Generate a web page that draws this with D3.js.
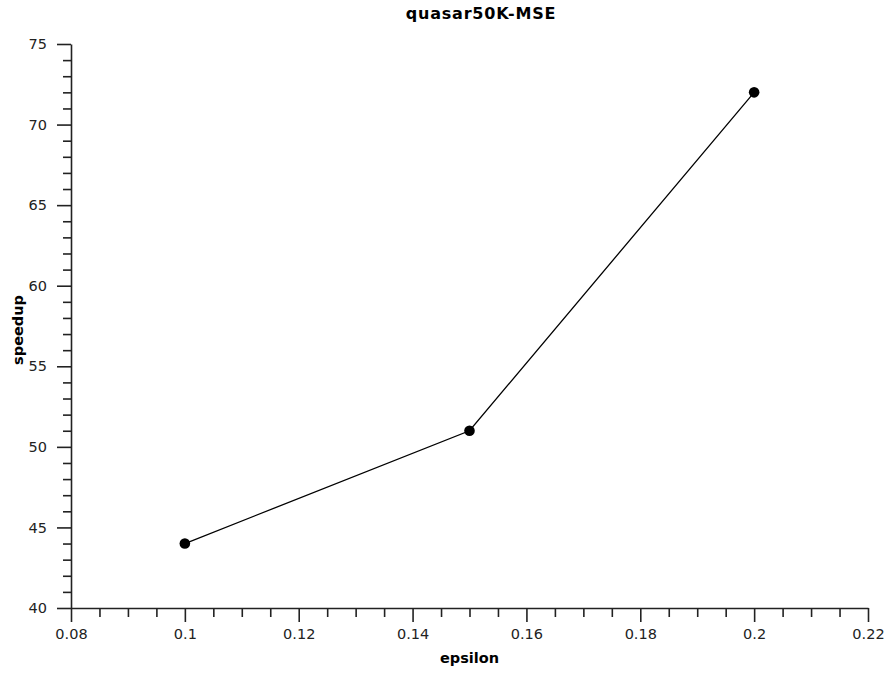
<!DOCTYPE html>
<html>
<head>
<meta charset="utf-8">
<script src="https://cdn.jsdelivr.net/npm/d3@7"></script>
<style>
  body { margin: 0; background: #fff; }
  text { font-family: "DejaVu Sans", Verdana, sans-serif; }
</style>
</head>
<body>
<div id="chart"></div>
<script>
(function() {
  'use strict';

  // data
  var epsilon = [0.1, 0.15, 0.2];
  var speedup = [44, 51, 72];
  var xTicks = [0.08, 0.1, 0.12, 0.14, 0.16, 0.18, 0.2, 0.22];
  var yTicks = [40, 45, 50, 55, 60, 65, 70, 75];

  var width = 888, height = 673;
  var left = 71, right = 868, top = 44, bottom = 608;

  var svg = d3.select('#chart').append('svg')
    .attr('width', width)
    .attr('height', height);

  var x = d3.scaleLinear().domain([0.08, 0.22]).range([left, right]);
  var y = d3.scaleLinear().domain([40, 75]).range([bottom, top]);

  // minor ticks
  var xMinor = d3.range(0.08, 0.2201, 0.005).filter(function(v) {
    return Math.abs(v / 0.02 - Math.round(v / 0.02)) > 1e-6;
  });
  var yMinor = d3.range(40, 75.01, 1).filter(function(v) { return v % 5 !== 0; });

  svg.append('g')
    .attr('transform', 'translate(0,' + bottom + ')')
    .call(d3.axisBottom(x).tickValues(xMinor).tickSize(9).tickFormat(''))
    .call(function(g) { g.select('.domain').remove(); });

  svg.append('g')
    .attr('transform', 'translate(' + left + ',0)')
    .call(d3.axisLeft(y).tickValues(yMinor).tickSize(8).tickFormat(''))
    .call(function(g) { g.select('.domain').remove(); });

  var xAxis = svg.append('g')
    .attr('transform', 'translate(0,' + bottom + ')')
    .call(d3.axisBottom(x).tickValues(xTicks).tickSize(14).tickSizeOuter(0)
      .tickFormat(function(d) { return d3.format('')(+d.toFixed(2)); }));

  var yAxis = svg.append('g')
    .attr('transform', 'translate(' + left + ',0)')
    .call(d3.axisLeft(y).tickValues(yTicks).tickSize(14).tickSizeOuter(0));

  svg.selectAll('.tick line, .domain')
    .attr('stroke', '#222')
    .attr('stroke-width', 1.6);

  xAxis.selectAll('text')
    .attr('font-size', 14.5)
    .attr('fill', '#222')
    .attr('dy', '0.95em');
  yAxis.selectAll('text')
    .attr('font-size', 14.5)
    .attr('fill', '#222')
    .attr('x', -24);

  var pts = epsilon.map(function(e, i) { return [e, speedup[i]]; });

  svg.append('path')
    .datum(pts)
    .attr('fill', 'none')
    .attr('stroke', '#000')
    .attr('stroke-width', 1.3)
    .attr('d', d3.line()
      .x(function(d) { return x(d[0]); })
      .y(function(d) { return y(d[1]); }));

  svg.selectAll('.pt')
    .data(pts)
    .enter().append('circle')
    .attr('class', 'pt')
    .attr('cx', function(d) { return x(d[0]); })
    .attr('cy', function(d) { return y(d[1]); })
    .attr('r', 5.3)
    .attr('fill', '#000');

  // title and axis labels
  svg.append('text')
    .attr('x', 481)
    .attr('y', 19)
    .attr('text-anchor', 'middle')
    .attr('font-size', 16)
    .attr('letter-spacing', 0.8)
    .attr('font-weight', 'bold')
    .text('quasar50K-MSE');

  svg.append('text')
    .attr('x', (left + right) / 2)
    .attr('y', 663)
    .attr('text-anchor', 'middle')
    .attr('font-size', 14.5)
    .attr('font-weight', 'bold')
    .text('epsilon');

  svg.append('text')
    .attr('transform', 'translate(23,' + 330 + ') rotate(-90)')
    .attr('text-anchor', 'middle')
    .attr('font-size', 14.5)
    .attr('font-weight', 'bold')
    .text('speedup');
})();
</script>
</body>
</html>
